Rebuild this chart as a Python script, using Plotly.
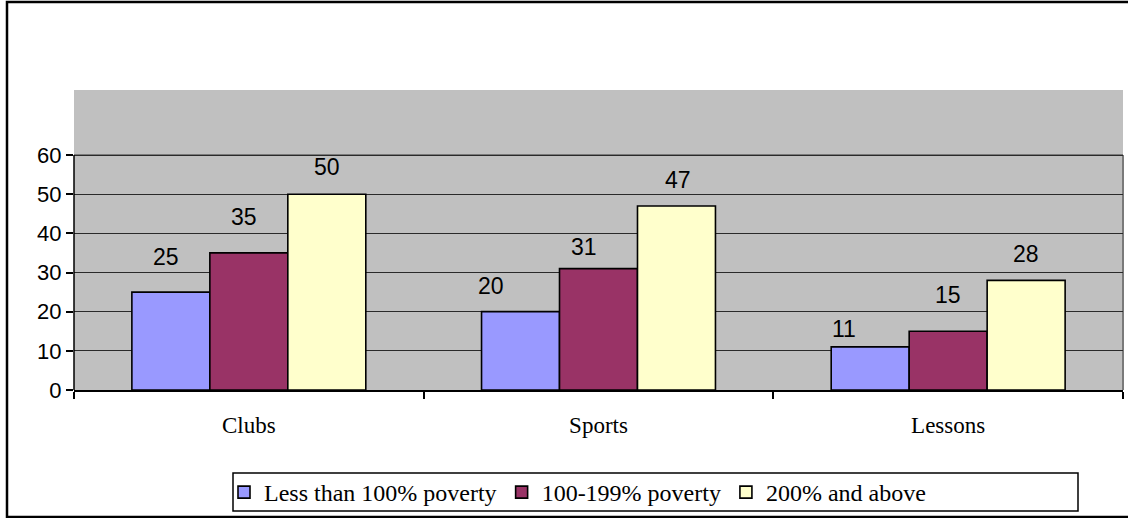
import plotly.graph_objects as go

categories = ["Clubs", "Sports", "Lessons"]
series_names = ["Less than 100% poverty", "100-199% poverty", "200% and above"]
below_100 = [25, 20, 11]
pov_100_199 = [35, 31, 15]
above_200 = [50, 47, 28]
y_ticks = [0, 10, 20, 30, 40, 50, 60]

series_values = [below_100, pov_100_199, above_200]
colors = ["#9999FF", "#993366", "#FFFFCC"]
bar_shift = [-78, 0, 78]
# data-label placement offsets (px) per series, per category
label_dx = [[-5, -30, -26], [-5, -15, 0], [0, 1, 0]]
label_dy = [[35, 26, 18], [36, 22, 36], [27, 26, 26]]

W, H = 1128, 518
L, R, T, B = 74, 5, 90, 128
pw, ph = W - L - R, H - T - B

def fx(px):
    return (px - L) / pw

def fy(py):
    return (H - B - py) / ph

fig = go.Figure()
for name, vals, col in zip(series_names, series_values, colors):
    fig.add_trace(go.Bar(
        x=categories, y=vals, name=name,
        marker=dict(color=col, line=dict(color="black", width=1.6)),
    ))

annotations = []
for vals, base_dx, dxs, dys in zip(series_values, bar_shift, label_dx, label_dy):
    for c, v, dx, dy in zip(categories, vals, dxs, dys):
        annotations.append(dict(
            x=c, y=v, text=str(v), showarrow=False, xshift=base_dx + dx, yshift=dy,
            yanchor="middle", xanchor="center",
            font=dict(family="Liberation Sans, Arial", size=23, color="black"),
        ))

shapes = [
    dict(type="rect", xref="paper", yref="paper", x0=fx(7), x1=fx(1135), y0=fy(517), y1=fy(2),
         line=dict(color="black", width=2.5), layer="above"),
    dict(type="rect", xref="paper", yref="paper", x0=fx(233), x1=fx(1078), y0=fy(511), y1=fy(473),
         line=dict(color="black", width=1.5)),
    dict(type="line", xref="paper", yref="y", x0=0, x1=0, y0=0, y1=60,
         line=dict(color="black", width=1.5), layer="above"),
    dict(type="line", xref="paper", yref="y", x0=0, x1=1, y0=60, y1=60,
         line=dict(color="#7a7a7a", width=2), layer="below"),
    dict(type="line", xref="paper", yref="y", x0=1, x1=1, y0=0, y1=60,
         line=dict(color="#7a7a7a", width=2), layer="below"),
]

fig.update_layout(
    width=W, height=H,
    margin=dict(l=L, r=R, t=T, b=B, autoexpand=False),
    paper_bgcolor="white", plot_bgcolor="#C0C0C0",
    barmode="group", bargap=0.331, bargroupgap=0,
    showlegend=True,
    legend=dict(orientation="h", x=fx(224), y=fy(470), xanchor="left", yanchor="top",
                font=dict(family="Liberation Serif, Times New Roman", size=24, color="black"),
                bgcolor="rgba(0,0,0,0)", borderwidth=0, traceorder="normal"),
    annotations=annotations,
    shapes=shapes,
    xaxis=dict(
        type="category", showline=True, linecolor="black", linewidth=1.5,
        ticks="outside", tickson="boundaries", ticklen=7, tickcolor="black", tickwidth=1.5,
        showgrid=False, tickfont=dict(family="Liberation Serif, Times New Roman", size=23, color="black"),
        ticklabelstandoff=14, automargin=False,
    ),
    yaxis=dict(
        range=[0, 76.6], tickvals=y_ticks, ticktext=[str(t) for t in y_ticks],
        showline=False, ticks="outside", ticklen=7, tickcolor="black", tickwidth=1.5,
        showgrid=True, gridcolor="#2a2a2a", gridwidth=1, zeroline=False, automargin=False,
        tickfont=dict(family="Liberation Sans, Arial", size=22, color="black"),
    ),
)

fig.write_html("out.html", config={"displayModeBar": False},
               post_script="document.body.style.margin='0';document.body.style.overflow='hidden';")
